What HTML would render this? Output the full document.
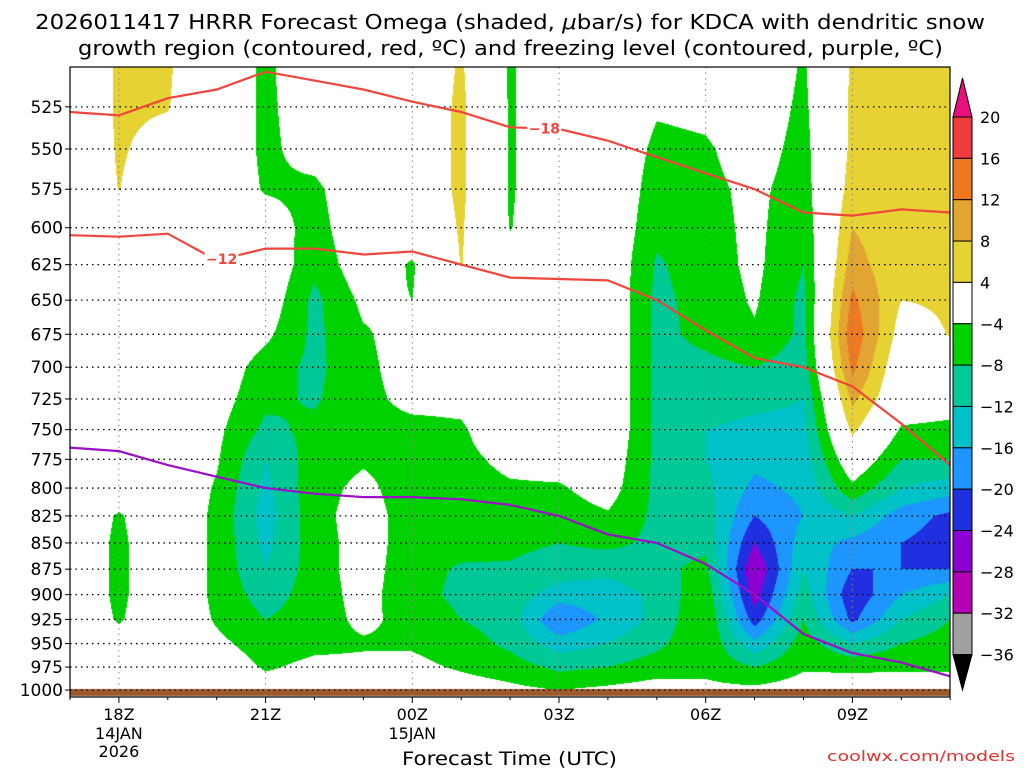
<!DOCTYPE html>
<html><head><meta charset="utf-8"><style>
html,body{margin:0;padding:0;background:#fff;}
#wrap{position:relative;width:1024px;height:768px;overflow:hidden;font-family:"DejaVu Sans","Liberation Sans",sans-serif;}
canvas,svg{position:absolute;left:0;top:0;}
svg text{font-family:"DejaVu Sans","Liberation Sans",sans-serif;}
</style></head><body>
<div id="wrap">
<canvas id="field" width="1024" height="768"></canvas>
<svg id="ov" width="1024" height="768"></svg>
</div>
<script>
// ---- data ----
const hours = ["17Z","18Z","19Z","20Z","21Z","22Z","23Z","00Z","01Z","02Z","03Z","04Z","05Z","06Z","07Z","08Z","09Z","10Z","11Z"];
const levels = [500,525,550,575,600,625,650,675,700,725,750,775,800,825,850,875,900,925,950,975,1000];
// omega per hour column, top (500) to bottom (1000)
const omega = [
[0,0,0,0,0,0,0,0,0,0,0,0,0,0,0,0,0,0,0,0,0],
[4.6,4.6,4.4,4.1,2,0,0,0,0,0,0,0,-1,-4.5,-5,-5,-5,-4.5,-2,0,0],
[4.5,4.2,2.5,1,0,0,0,0,0,0,0,0,0,0,0,0,0,0,0,0,0],
[0,0,0,0,0,0,0,0,-1,-2,-3,-3.5,-4.5,-5,-5,-5,-5,-4.5,-3,-1,0],
[-5,-5,-5,-4.5,-1,0,-1,-3,-6,-7,-9,-12,-13,-14,-13,-12,-10,-8,-6,-4.5,-2],
[0,-1,-2,-5,-6,-7,-9,-9,-9,-8.5,-7,-6,-5.5,-5.5,-6,-6,-6,-6,-5,-3,-1],
[0,0,0,0,0,-1,-3,-4.5,-5,-5,-5,-4.5,-3,-2,-2,-2,-2.5,-3,-4.5,-3,0],
[0,0,0,0,-1,-4.5,-4,-2,-2,-3,-5,-5.5,-6,-6,-6,-6.5,-6.5,-5.5,-4.5,-3,-1],
[4.5,5,5,5,4.5,4.2,2,0,-1,-3,-4.5,-5,-5.5,-6,-6.5,-8.5,-9,-8,-6,-4.5,-2],
[-4.5,-4.5,-4.5,-4.5,-4.2,-2,0,0,0,0,-1,-3,-4.5,-6,-7,-8.5,-9.5,-10,-9,-6,-3],
[0,0,0,0,0,0,0,0,0,0,-1,-2,-4.5,-6,-8,-10,-14,-20,-14,-9,-4],
[0,0,0,0,0,0,0,0,0,0,0,-1,-2,-4.5,-7,-11,-14,-15,-12,-8,-3],
[0,-3.5,-5,-6,-7,-8.5,-9,-9,-9,-9,-9,-9,-9,-9,-9,-9,-11,-11,-9,-6,-2],
[0,-3,-4.5,-5,-5.5,-6,-6.5,-7,-9,-10,-12,-12,-11,-10,-9,-7,-5,-4,-4.5,-5,-3],
[0,-1,-2,-3,-3,-3,-3.5,-4.5,-8,-11,-13,-15,-17,-20,-24,-28,-26,-22,-15,-8,-3],
[-4.5,-5,-5.5,-6,-7,-8,-9,-9,-10,-12,-13,-14,-15,-16,-14,-12,-10,-8,-6,-4.5,-2],
[4.5,5,5,6,8,10,13,15,13,9,5,0,-5,-12,-17,-20,-23,-21,-12,-5,-1],
[5,5,5,5,4.5,4.5,4,2,0,-1,-4.5,-8,-12,-18,-20,-20,-16,-12,-8,-4.5,-2],
[4.5,4.5,4.5,4.5,4.5,4.5,4.5,4.2,2,-2,-5,-8,-14,-21,-22,-20,-12,-8,-6,-4.5,-2]
];
const freezeLevel = [765,768,780,790,800,805,808,808,810,815,825,842,850,870,900,940,960,970,985];
const dgzTop = [528,530,520,515,505,510,515,522,528,537,538,545,555,565,575,590,592,588,590];
const dgzBot = [605,606,604,622,614,614,618,616,625,634,635,636,650,672,693,700,715,745,780];
const cbLevels = [20,16,12,8,4,-4,-8,-12,-16,-20,-24,-28,-32,-36];
const cbColors = ["#f03c3c","#f07820","#e2a531","#e6d232","#ffffff","#00d200","#00c896","#00c0c8","#1e96ff","#2030e0","#8c00d2","#b400b4","#a0a0a0"];
const pLabels = [525,550,575,600,625,650,675,700,725,750,775,800,825,850,875,900,925,950,975,1000];

// ---- axes ----
const X0=70, X1=950, Y0=67, Y1=697, HW=48.9;
const xOf = i => X0 + i*HW;
const yOf = p => 690 - 905*Math.log(1000/p);
const pOf = y => 1000*Math.exp(-(690-y)/905);

function colorFor(v){
  if(v>=20) return "#e8107a";
  if(v<-36) return "#000000";
  for(let k=0;k<cbLevels.length-1;k++){ if(v>=cbLevels[k+1]) return cbColors[k]; }
  return "#a0a0a0";
}
const ctx=document.getElementById('field').getContext('2d');
const img=ctx.createImageData(X1-X0, Y1-Y0);
const cache={};
function rgb(h){ if(!cache[h]) cache[h]=[parseInt(h.substr(1,2),16),parseInt(h.substr(3,2),16),parseInt(h.substr(5,2),16)]; return cache[h]; }
for(let y=Y0;y<Y1;y++){
  const p=pOf(y+0.5); let lf=(p-500)/25; lf=Math.max(0,Math.min(levels.length-1.0001,lf));
  const l0=Math.floor(lf), lt=lf-l0;
  for(let x=X0;x<X1;x++){
    let hf=(x+0.5-X0)/HW; hf=Math.max(0,Math.min(hours.length-1.0001,hf));
    const h0=Math.floor(hf), ht=hf-h0;
    const v=(omega[h0][l0]*(1-ht)+omega[h0+1][l0]*ht)*(1-lt)+(omega[h0][l0+1]*(1-ht)+omega[h0+1][l0+1]*ht)*lt;
    const c=rgb(colorFor(v)); const idx=((y-Y0)*(X1-X0)+(x-X0))*4;
    img.data[idx]=c[0];img.data[idx+1]=c[1];img.data[idx+2]=c[2];img.data[idx+3]=255;
  }
}
ctx.putImageData(img,X0,Y0);
ctx.fillStyle="#9c5a2c"; ctx.fillRect(X0,689,X1-X0,7);

// ---- svg overlay ----
const NS="http://www.w3.org/2000/svg", svg=document.getElementById('ov');
function mk(tag,attrs,parent){const e=document.createElementNS(NS,tag);for(const k in attrs)e.setAttribute(k,attrs[k]);(parent||svg).appendChild(e);return e;}
function txt(s,attrs,parent){const e=mk('text',attrs,parent);e.textContent=s;return e;}

const grid=mk('g',{});


pLabels.forEach(p=>{
  const l=mk('line',{x1:X0,x2:X1,y1:yOf(p),y2:yOf(p),stroke:"#000","stroke-width":1.3,"stroke-dasharray":"1.5,4"},grid);
  
  
});
for(let i=1;i<hours.length;i+=3){
  const l=mk('line',{x1:xOf(i),x2:xOf(i),y1:Y0,y2:Y1,stroke:"#888","stroke-width":1,"stroke-dasharray":"1.5,4"},grid);
  
  
}
function line(arr,color,name){
  const d=arr.map((p,i)=>(i?'L':'M')+xOf(i).toFixed(1)+','+yOf(p).toFixed(1)).join(' ');
  const e=mk('path',{d:d,fill:"none",stroke:color,"stroke-width":2.2});
  
  
}
line(dgzTop,"#f0463c","dgz-minus18-line");
line(dgzBot,"#f0463c","dgz-minus12-line");
line(freezeLevel,"#9b10c8","freezing-level-line");
function clabel(s,i,arr,name){
  const x=xOf(i), y=yOf(arr[Math.floor(i)]*(1-(i%1))+arr[Math.ceil(i)]*(i%1));
  mk('rect',{x:x-17,y:y-8,width:34,height:16,fill:"#fff"});
  const t=txt(s,{x:x,y:y+5,"text-anchor":"middle","font-size":14,"font-weight":"bold",fill:"#f0463c"});
  
  
}
clabel("\u221218",9.7,dgzTop,"label-minus18");
clabel("\u221212",3.1,dgzBot,"label-minus12");
const fr=mk('rect',{x:X0,y:Y0,width:X1-X0,height:Y1-Y0,fill:"none",stroke:"#000","stroke-width":1.2});


pLabels.forEach(p=>{
  const t=txt(String(p),{x:63,y:yOf(p)+6,"text-anchor":"end","font-size":17,fill:"#000"});
  
  
  mk('line',{x1:X0-5,x2:X0,y1:yOf(p),y2:yOf(p),stroke:"#000"});
});
const xExtra={"18Z":["14JAN","2026"],"00Z":["15JAN"]};
for(let i=1;i<hours.length;i+=3){
  const t=txt(hours[i],{x:xOf(i),y:720,"text-anchor":"middle","font-size":16,fill:"#000"});
  
  
  (xExtra[hours[i]]||[]).forEach((s,k)=>{txt(s,{x:xOf(i),y:739+k*18,"text-anchor":"middle","font-size":16,fill:"#000"});});
}
for(let i=0;i<hours.length;i++){ mk('line',{x1:xOf(i),x2:xOf(i),y1:Y1,y2:Y1+(i%3==1?6:3),stroke:"#000"}); }
const cb=mk('g',{});


const cbPos=k=>117+k*41.35;
for(let k=0;k<cbColors.length;k++){
  mk('rect',{x:953,y:cbPos(k),width:19,height:41.35,fill:cbColors[k],stroke:"#000","stroke-width":1},cb);
}
mk('polygon',{points:`953,${cbPos(0)} 972,${cbPos(0)} 962.5,78`,fill:"#e8107a",stroke:"#000"},cb);
mk('polygon',{points:`953,${cbPos(13)} 972,${cbPos(13)} 962.5,690`,fill:"#000",stroke:"#000"},cb);
cbLevels.forEach((l,k)=>{
  const t=txt(String(l).replace('-','\u2212'),{x:980,y:cbPos(k)+6,"font-size":16,fill:"#000"},cb);
  
  
});
const t1=txt("",{x:35,y:29,"font-size":20,fill:"#000",textLength:950,lengthAdjust:"spacingAndGlyphs"});
t1.innerHTML='2026011417 HRRR Forecast Omega (shaded, <tspan font-style="italic">\u03bc</tspan>bar/s) for KDCA with dendritic snow';


const t2=txt("growth region (contoured, red, \u00baC) and freezing level (contoured, purple, \u00baC)",{x:78,y:55,"font-size":20,fill:"#000",textLength:865,lengthAdjust:"spacingAndGlyphs"});


const xt=txt("Forecast Time (UTC)",{x:402,y:765,"font-size":19,fill:"#000",textLength:215,lengthAdjust:"spacingAndGlyphs"});


const cr=txt("coolwx.com/models",{x:827,y:761,"font-size":14,fill:"#e03030",textLength:188,lengthAdjust:"spacingAndGlyphs"});


</script>
</body></html>
